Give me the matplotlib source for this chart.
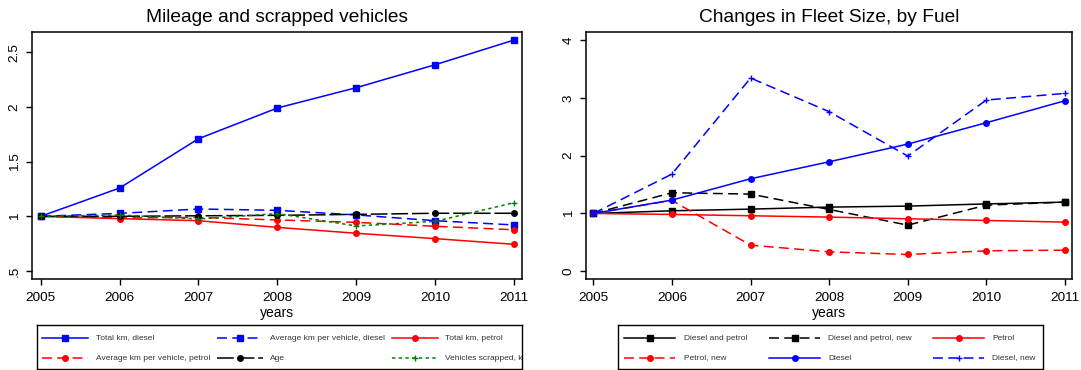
import matplotlib
matplotlib.use("Agg")
import matplotlib.pyplot as plt

plt.rcParams['font.family'] = ['Liberation Sans', 'DejaVu Sans']

W, H = 1081, 370

years = [2005, 2006, 2007, 2008, 2009, 2010, 2011]

# Mileage and scrapped vehicles (index, 2005 = 1)
total_km_diesel = [1.0, 1.259, 1.710, 1.991, 2.177, 2.387, 2.613]
avg_km_diesel = [1.0, 1.027, 1.067, 1.055, 1.013, 0.960, 0.921]
total_km_petrol = [1.0, 0.979, 0.960, 0.899, 0.845, 0.796, 0.744]
avg_km_petrol = [1.0, 0.985, 0.990, 0.967, 0.945, 0.909, 0.877]
age = [1.0, 1.0, 1.005, 1.009, 1.018, 1.028, 1.028]
scrapped = [1.0, 1.012, 0.976, 1.025, 0.912, 0.954, 1.125]

left_yticks = [0.5, 1, 1.5, 2, 2.5]
left_yticklabels = ['.5', '1', '1.5', '2', '2.5']

# Changes in fleet size, by fuel (index, 2005 = 1)
fleet_total = [1.0, 1.046, 1.075, 1.110, 1.127, 1.165, 1.196]
fleet_total_new = [1.0, 1.358, 1.335, 1.069, 0.798, 1.144, 1.196]
fleet_petrol = [1.0, 0.983, 0.960, 0.937, 0.908, 0.879, 0.850]
fleet_petrol_new = [1.0, 1.225, 0.452, 0.336, 0.290, 0.354, 0.365]
fleet_diesel = [1.0, 1.231, 1.600, 1.894, 2.200, 2.570, 2.950]
fleet_diesel_new = [1.0, 1.681, 3.343, 2.760, 1.993, 2.962, 3.077]

right_yticks = [0, 1, 2, 3, 4]
right_yticklabels = ['0', '1', '2', '3', '4']

GREEN = '#007f00'
DASH = (6.5, 3.5)
LONGDASH = (11, 2.5)
DOT = (2.2, 2.2)

left_series = [
    (total_km_diesel, 'Total km, diesel', 'blue', '-', 's', 4.5),
    (avg_km_diesel, 'Average km per vehicle, diesel', 'blue', DASH, 's', 4.5),
    (total_km_petrol, 'Total km, petrol', 'red', '-', 'o', 4),
    (avg_km_petrol, 'Average km per vehicle, petrol', 'red', DASH, 'o', 4),
    (age, 'Age', 'black', LONGDASH, 'o', 4),
    (scrapped, 'Vehicles scrapped, k', GREEN, DOT, '+', 5),
]

right_series = [
    (fleet_total, 'Diesel and petrol', 'black', '-', 's', 4.5),
    (fleet_total_new, 'Diesel and petrol, new', 'black', DASH, 's', 4.5),
    (fleet_petrol, 'Petrol', 'red', '-', 'o', 4),
    (fleet_petrol_new, 'Petrol, new', 'red', DASH, 'o', 4),
    (fleet_diesel, 'Diesel', 'blue', '-', 'o', 4),
    (fleet_diesel_new, 'Diesel, new', 'blue', DASH, '+', 5),
]


def px_axes(fig, x0, y0, x1, y1):
    return fig.add_axes([x0 / W, 1 - y1 / H, (x1 - x0) / W, (y1 - y0) / H])


def draw_line(ax, x, y, color, style, marker, ms, **kw):
    line, = ax.plot(x, y, color=color, lw=1.1, marker=marker, ms=ms,
                    mew=1.0, mfc=color, mec=color, **kw)
    if style == '-':
        line.set_linestyle('-')
    else:
        line.set_dashes(style)
    return line


def style_axes(ax, title, xlim, ylim, yticks, yticklabels):
    ax.set_xlim(*xlim)
    ax.set_ylim(*ylim)
    ax.set_xticks(years)
    ax.set_yticks(yticks)
    ax.set_yticklabels(yticklabels)
    ax.tick_params(axis='both', direction='out', length=4.5, width=1,
                   labelsize=9.7, top=False, right=False)
    ax.tick_params(axis='x', pad=5)
    ax.tick_params(axis='y', pad=3.5, labelrotation=90)
    for lab in ax.get_yticklabels():
        lab.set_va('center')
    for sp in ax.spines.values():
        sp.set_linewidth(1.1)
    ax.set_title(title, fontsize=13.8, pad=7)
    ax.set_xlabel('years', fontsize=10, labelpad=1)


def draw_legend(fig, box, series, handle_x, text_x, hl, rows_y):
    x0, y0, x1, y1 = box
    lg = px_axes(fig, x0, y0, x1, y1)
    lg.set_xlim(0, x1 - x0)
    lg.set_ylim(y1 - y0, 0)
    lg.set_xticks([])
    lg.set_yticks([])
    for sp in lg.spines.values():
        sp.set_linewidth(1.0)
    for i, (_, label, color, style, marker, ms) in enumerate(series):
        col, row = i % 3, i // 3
        hx, ty = handle_x[col], rows_y[row]
        draw_line(lg, [hx, hx + hl], [ty, ty], color, style, None, ms)
        lg.plot([hx + hl / 2], [ty], marker=marker, ms=ms, color=color,
                mew=1.0, ls='none')
        lg.text(text_x[col], ty, label, fontsize=6, va='center', ha='left',
                color='#333333', clip_on=True)


fig = plt.figure(figsize=(W / 100, H / 100), dpi=100)

ax1 = px_axes(fig, 31.7, 31.7, 522, 279.3)
for vals, label, color, style, marker, ms in left_series:
    draw_line(ax1, years, vals, color, style, marker, ms)
style_axes(ax1, 'Mileage and scrapped vehicles', (2004.886, 2011.10),
           (0.424, 2.689), left_yticks, left_yticklabels)

ax2 = px_axes(fig, 585.7, 31.7, 1072, 279.3)
for vals, label, color, style, marker, ms in right_series:
    draw_line(ax2, years, vals, color, style, marker, ms)
style_axes(ax2, 'Changes in Fleet Size, by Fuel', (2004.903, 2011.089),
           (-0.139, 4.144), right_yticks, right_yticklabels)

draw_legend(fig, (37, 325, 522, 369), left_series,
            [5, 180, 355], [59, 233, 408], 46, [13, 33])
draw_legend(fig, (618, 325, 1043, 369), right_series,
            [6, 151, 315], [66, 210, 374], 51, [13, 33])

fig.savefig('out.png', dpi=100)
